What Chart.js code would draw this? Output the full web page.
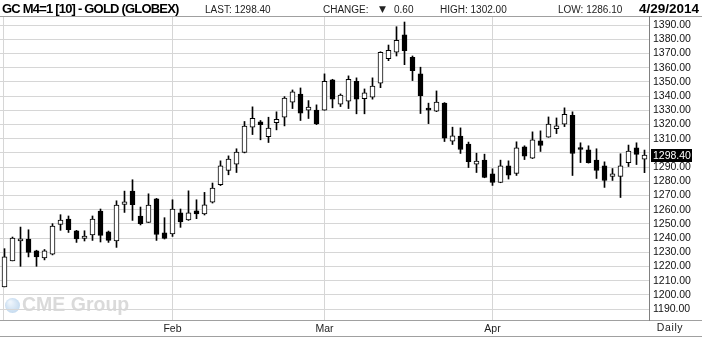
<!DOCTYPE html>
<html>
<head>
<meta charset="utf-8">
<script src="https://cdn.jsdelivr.net/npm/chart.js@4.4.1/dist/chart.umd.min.js"></script>
<style>
  html, body { margin: 0; padding: 0; background: #fff; }
  #c { display: block; }
</style>
</head>
<body>
<canvas id="c" width="702" height="337" style="width:702px;height:337px"></canvas>
<script>
// daily OHLC, one entry per trading day (Jan 2 .. Apr 29 2014)
const opens = [1205.7,1224.0,1238.0,1239.4,1231.0,1226.1,1228.8,1249.7,1253.5,1245.2,1239.8,1242.2,1259.1,1244.5,1238.0,1263.7,1273.1,1255.6,1251.1,1267.7,1243.8,
  1242.9,1257.9,1252.8,1259.3,1257.0,1265.4,1277.6,1287.6,1292.1,1300.3,1318.1,1321.8,1311.5,1321.3,1325.1,1335.7,1341.3,1330.1,1330.1,
  1330.1,1351.4,1334.3,1336.4,1350.4,1338.2,1339.2,1349.0,1366.3,1370.8,1383.0,1367.3,1355.6,1331.5,1329.4,1335.0,1308.3,1311.8,1306.2,1292.1,1294.9,
  1285.3,1279.2,1290.9,1285.5,1304.3,1296.3,1308.5,1311.1,1317.1,1320.2,1326.5,1303.6,1302.2,1294.9,1290.9,1283.4,1283.4,1293.2,1303.6,1295.6];
const highs = [1232.6,1240.8,1247.8,1245.9,1231.5,1232.0,1250.2,1256.5,1255.6,1245.5,1245.2,1255.6,1260.5,1245.0,1266.3,1273.1,1281.1,1261.9,1271.2,1268.0,1254.4,
  1267.0,1260.5,1273.3,1267.0,1272.2,1278.8,1294.4,1297.9,1302.9,1322.1,1332.4,1322.8,1325.1,1328.9,1339.6,1344.3,1345.7,1336.8,1333.8,
  1355.6,1351.8,1341.5,1354.2,1352.8,1345.0,1352.8,1371.2,1375.9,1388.8,1392.1,1368.2,1360.3,1335.0,1343.6,1335.4,1318.1,1317.6,1307.6,1299.8,1299.1,
  1288.8,1294.9,1294.4,1307.8,1305.0,1314.8,1315.5,1325.3,1324.6,1331.7,1328.9,1307.1,1305.0,1302.9,1293.7,1289.0,1299.4,1305.5,1307.1,1302.0];
const lows = [1205.7,1224.0,1220.2,1226.8,1220.2,1224.7,1228.2,1245.5,1244.0,1237.0,1238.0,1238.4,1237.3,1237.0,1233.5,1258.1,1252.5,1249.3,1251.0,1238.4,1239.4,
  1241.2,1247.6,1252.5,1253.7,1256.3,1264.7,1277.0,1284.6,1286.2,1300.0,1312.9,1309.2,1307.3,1316.2,1319.0,1331.2,1322.8,1324.2,1319.9,
  1330.0,1331.7,1332.6,1331.2,1327.5,1327.5,1337.8,1345.9,1364.9,1368.2,1362.1,1350.9,1327.7,1320.6,1329.0,1308.0,1305.9,1299.6,1289.7,1286.2,1282.5,
  1277.1,1279.0,1281.6,1284.1,1295.3,1296.0,1301.0,1311.0,1313.6,1318.5,1284.1,1293.2,1292.8,1282.0,1275.7,1280.6,1268.6,1290.4,1291.8,1286.1];
const closes = [1226.8,1240.1,1239.6,1230.0,1226.8,1231.0,1248.5,1252.8,1245.9,1239.4,1241.5,1253.5,1241.9,1238.4,1263.3,1265.6,1263.5,1250.2,1263.3,1242.6,1239.8,
  1260.5,1251.4,1257.9,1257.0,1263.5,1275.2,1290.9,1295.6,1300.5,1318.8,1324.4,1319.9,1317.4,1323.7,1338.5,1342.9,1328.0,1332.2,1320.4,
  1350.4,1337.8,1340.6,1351.8,1337.8,1342.2,1347.1,1370.8,1372.2,1379.2,1371.9,1357.9,1340.3,1330.1,1335.7,1310.4,1312.0,1302.4,1293.9,1294.2,1282.7,
  1279.2,1290.9,1284.4,1303.6,1297.7,1309.2,1305.2,1320.2,1319.0,1327.2,1299.6,1302.4,1293.2,1287.6,1280.6,1285.3,1290.9,1301.2,1299.0,1298.4];

const monthLabels = ['Feb', 'Mar', 'Apr'];
const monthStarts = [21, 40, 61];   // index of first trading day of each month
const yTicks = [1190,1200,1210,1220,1230,1240,1250,1260,1270,1280,1290,1300,1310,1320,1330,1340,1350,1360,1370,1380,1390];
const title = 'GC M4=1 [10] - GOLD (GLOBEX)';
const lastDate = '4/29/2014';

const FONT = '"Liberation Sans", Arial, sans-serif';
const n = closes.length;
const last = closes[n - 1];
const change = last - closes[n - 2];

const bodies = closes.map((c, i) => ({ x: i, y: [opens[i], c] }));
const wicks = closes.map((c, i) => ({ x: i, y: [lows[i], highs[i]] }));
const bodyFill = closes.map((c, i) => c >= opens[i] ? '#ffffff' : '#000000');

// header, frame lines, watermark, last-price tag
const decor = {
  id: 'decor',
  beforeDraw(chart) {
    const c = chart.ctx;
    c.save();
    const g = c.createRadialGradient(10, 302, 1, 12.5, 305.5, 8);
    g.addColorStop(0, '#eef5fc');
    g.addColorStop(1, '#c4daef');
    c.fillStyle = g;
    c.beginPath();
    c.arc(12.5, 305.5, 7.5, 0, Math.PI * 2);
    c.fill();
    c.fillStyle = '#dadada';
    c.font = 'bold 19.5px ' + FONT;
    c.textBaseline = 'alphabetic';
    c.fillText('CME Group', 22, 311);
    c.restore();
  },
  afterDraw(chart) {
    const c = chart.ctx;
    const area = chart.chartArea;
    const y = chart.scales.y;
    c.save();
    c.strokeStyle = '#a0a0a0';
    c.lineWidth = 1;
    c.beginPath();
    c.moveTo(0, 16.5); c.lineTo(702, 16.5);
    c.moveTo(0, area.bottom + 0.5); c.lineTo(702, area.bottom + 0.5);
    c.moveTo(0, 336.5); c.lineTo(702, 336.5);
    c.stroke();
    c.strokeStyle = '#808080';
    c.beginPath();
    c.moveTo(area.right + 0.5, 16); c.lineTo(area.right + 0.5, area.bottom + 1);
    c.stroke();

    // header
    c.textBaseline = 'alphabetic';
    c.fillStyle = '#000';
    c.font = 'bold 13px ' + FONT;
    c.letterSpacing = '-0.8px';
    c.fillText(title, 2, 13);
    c.letterSpacing = '0px';
    c.fillStyle = '#222';
    c.font = '10px ' + FONT;
    c.fillText('LAST: ' + last.toFixed(2), 205, 12.5);
    c.fillText('CHANGE:', 323, 12.5);
    c.fillText(Math.abs(change).toFixed(2), 394, 12.5);
    c.fillText('HIGH: ' + highs[n - 1].toFixed(2), 440, 12.5);
    c.fillText('LOW: ' + lows[n - 1].toFixed(2), 558, 12.5);
    c.font = '9px "DejaVu Sans", sans-serif';
    c.fillText(change < 0 ? '\u25BC' : '\u25B2', 379, 12);
    c.fillStyle = '#000';
    c.font = 'bold 13.5px ' + FONT;
    c.textAlign = 'right';
    c.fillText(lastDate, 699, 13);

    // Daily
    c.textAlign = 'center';
    c.textBaseline = 'middle';
    c.fillStyle = '#222';
    c.font = '10.5px ' + FONT;
    c.letterSpacing = '0.6px';
    c.fillText('Daily', 670, 328.5);
    c.letterSpacing = '0px';

    // last price tag
    const yp = y.getPixelForValue(last);
    c.fillStyle = '#000';
    c.fillRect(651, Math.round(yp) - 6, 41, 13);
    c.fillStyle = '#fff';
    c.textAlign = 'left';
    c.fillText(last.toFixed(2), 653, yp + 0.5);
    c.restore();
  }
};

new Chart(document.getElementById('c').getContext('2d'), {
  type: 'bar',
  data: {
    datasets: [
      {
        data: bodies,
        order: 0,
        grouped: false,
        barThickness: 5,
        minBarLength: 2,
        borderWidth: 1,
        borderSkipped: false,
        borderColor: '#000',
        backgroundColor: bodyFill
      },
      {
        data: wicks,
        order: 1,
        grouped: false,
        barThickness: 1,
        borderWidth: 0,
        backgroundColor: '#000'
      }
    ]
  },
  options: {
    responsive: false,
    animation: false,
    devicePixelRatio: 1,
    layout: { padding: { top: 17, left: 0, right: 0, bottom: 0 } },
    plugins: { legend: { display: false }, tooltip: { enabled: false } },
    scales: {
      x: {
        type: 'linear',
        min: -0.5625,
        max: 80.5625,
        offset: false,
        grid: { offset: false, color: '#d6d6d6', drawTicks: false },
        border: { display: false },
        afterBuildTicks: (s) => { s.ticks = [{ value: -0.15 }].concat(monthStarts.map(v => ({ value: v }))); },
        afterFit: (s) => { s.height = 17; },
        ticks: {
          autoSkip: false,
          maxRotation: 0,
          padding: 3,
          color: '#222',
          font: { family: FONT, size: 10.5 },
          callback: (v) => {
            const k = monthStarts.indexOf(v);
            return k >= 0 ? monthLabels[k] : '';
          }
        }
      },
      y: {
        position: 'right',
        min: 1182.4,
        max: 1395.63,
        grid: { color: '#d6d6d6', drawTicks: false },
        border: { display: false },
        afterBuildTicks: (s) => { s.ticks = yTicks.map(v => ({ value: v })); },
        afterFit: (s) => { s.width = 53; },
        ticks: {
          autoSkip: false,
          padding: 4,
          color: '#111',
          font: { family: FONT, size: 10.5 },
          // the 1300 slot is covered by the last price tag
          callback: (v) => v === 1300 ? '' : Number(v).toFixed(2)
        }
      }
    }
  },
  plugins: [decor]
});
</script>
</body>
</html>
